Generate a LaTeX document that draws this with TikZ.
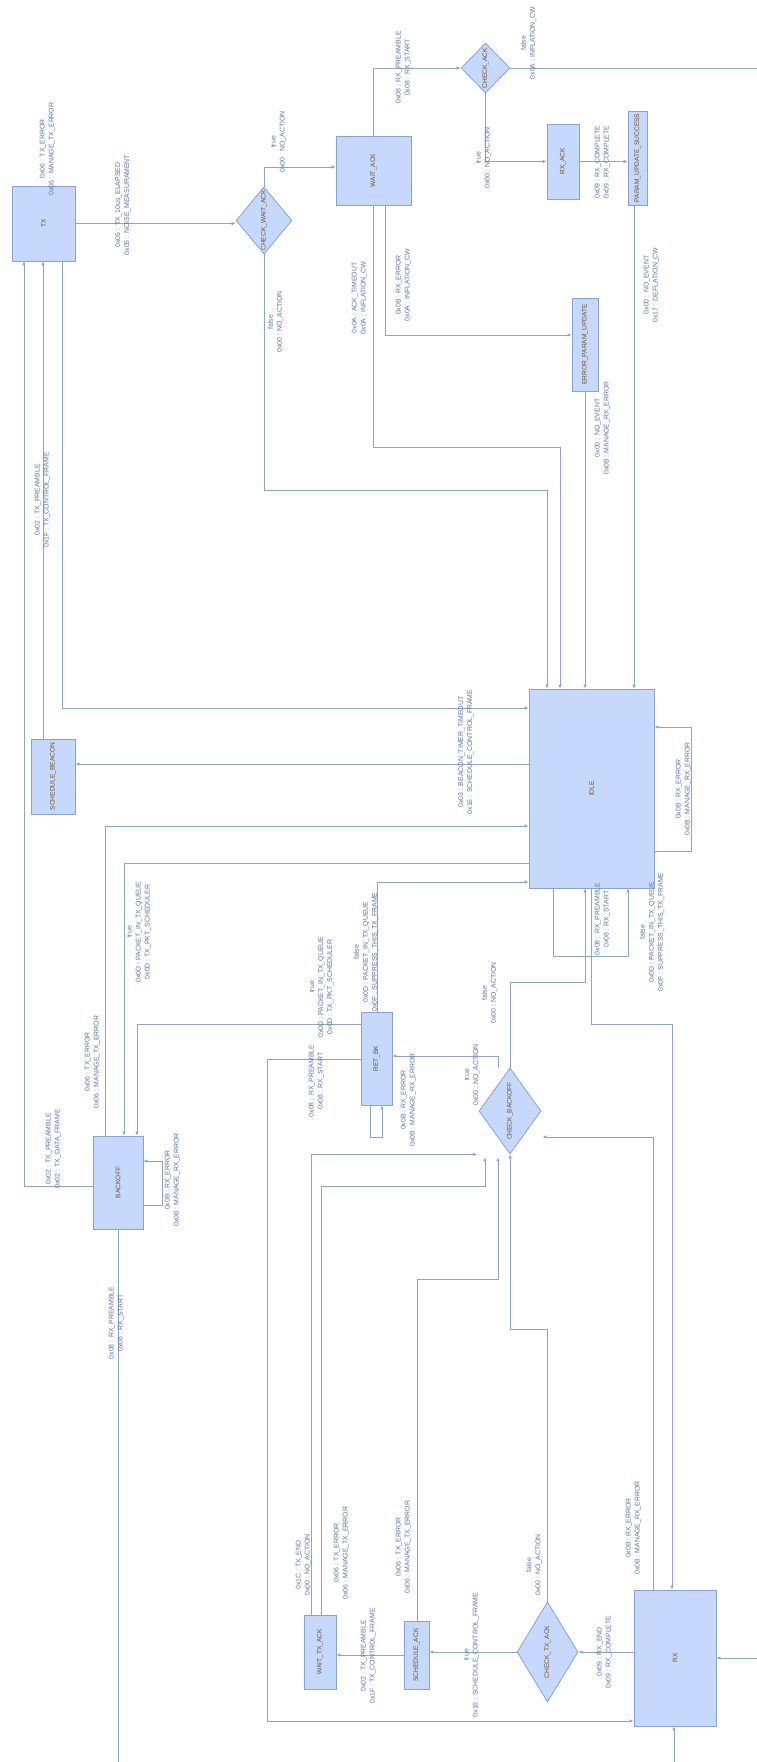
\documentclass[tikz,border=0pt]{standalone}
\usepackage{fontspec}
\usetikzlibrary{shapes.geometric,arrows.meta}
\newfontfamily\diafont{Liberation Sans}
\newcommand{\lfont}{\diafont\fontsize{6.9}{9}\selectfont}
\newcommand{\nfont}{\diafont\fontsize{6.6}{9}\selectfont}
\definecolor{boxfill}{HTML}{C6D9FD}
\definecolor{boxline}{HTML}{86A2DA}
\definecolor{nodetext}{HTML}{6E4F25}
\definecolor{labeltext}{HTML}{5F74A8}
\definecolor{edgecol}{HTML}{8CA3D6}
\tikzset{
 box/.style={draw=boxline, fill=boxfill, line width=0.8pt, rectangle, inner sep=0pt},
 dia/.style={draw=boxline, fill=boxfill, line width=0.8pt, diamond, inner sep=0pt},
 ntxt/.style={rotate=90, text=nodetext, font=\nfont, inner sep=0pt},
 lbl/.style={rotate=90, text=labeltext, font=\lfont, align=center, inner sep=0pt},
 edge/.style={draw=edgecol, line width=0.7pt, -{Latex[length=4pt,width=3.5pt]}},
 plain/.style={draw=edgecol, line width=0.7pt},
}
\begin{document}
\begin{tikzpicture}[x=1pt,y=-1pt]
\useasboundingbox (0,0) rectangle (757,1762);
\fill[white] (0,0) rectangle (757,1762);

% ---------- nodes ----------
\node[box, minimum width=63pt, minimum height=75pt, label={[ntxt]center:TX}] (tx) at (43.5,223.5) {};
\node[box, minimum width=75pt, minimum height=69pt, label={[ntxt]center:WAIT\_ACK}] (wa) at (373.5,170.5) {};
\node[box, minimum width=32pt, minimum height=75pt, label={[ntxt]center:RX\_ACK}] (rxack) at (563,161.5) {};
\node[box, minimum width=19pt, minimum height=94pt, label={[ntxt]center:PARAM\_UPDATE\_SUCCESS}] (psu) at (637.5,158) {};
\node[box, minimum width=26pt, minimum height=93pt, label={[ntxt]center:ERROR\_PARAM\_UPDATE}] (epu) at (585,344.5) {};
\node[box, minimum width=125pt, minimum height=199pt, label={[ntxt]center:IDLE}] (idle) at (591.5,788.5) {};
\node[box, minimum width=44pt, minimum height=75pt, label={[ntxt]center:SCHEDULE\_BEACON}] (sb) at (53,776.5) {};
\node[box, minimum width=31pt, minimum height=93pt, label={[ntxt]center:RET\_BK}] (rb) at (376.5,1058.5) {};
\node[box, minimum width=50pt, minimum height=93pt, label={[ntxt]center:BACKOFF}] (bo) at (118,1182.5) {};
\node[box, minimum width=32pt, minimum height=74pt, label={[ntxt]center:WAIT\_TX\_ACK}] (wta) at (320,1652) {};
\node[box, minimum width=25pt, minimum height=68pt, label={[ntxt]center:SCHEDULE\_ACK}] (sa) at (416.5,1655) {};
\node[box, minimum width=82pt, minimum height=136pt, label={[ntxt]center:RX}] (rx) at (675,1658) {};

\node[dia, minimum width=56pt, minimum height=67pt, label={[ntxt]center:CHECK\_WAIT\_ACK}] (cwa) at (264,220.5) {};
\node[dia, minimum width=49pt, minimum height=50pt, label={[ntxt]center:CHECK\_ACK}] (ca) at (485.5,68) {};
\node[dia, minimum width=62pt, minimum height=86pt, label={[ntxt]center:CHECK\_BACKOFF}] (cb) at (510,1111) {};
\node[dia, minimum width=61pt, minimum height=100pt, label={[ntxt]center:CHECK\_TX\_ACK}] (cta) at (547.5,1652) {};

\coordinate (eR1) at (757,68);
\coordinate (eR2) at (757,1658);
\coordinate (eB1) at (118,1762);
\coordinate (eB2) at (674,1762);

% ---------- connectors ----------
\draw[edge] (tx.east) -- (tx.east -| cwa.west);
\draw[edge] (cwa.north) |- ([yshift=3.5pt]wa.west);
\draw[edge] (cwa.south) -- (264,490) -| ([xshift=-44.5pt]idle.north);
\draw[edge] ([xshift=-0.5pt]wa.south) -- (373,447) -| ([xshift=-31.5pt]idle.north);
\draw[edge] ([xshift=11.5pt]wa.south) |- ([yshift=9.5pt]epu.west);
\draw[edge] (epu.south) -- (epu.south |- idle.north);
\draw[edge] ([xshift=-0.5pt]wa.north) |- (ca.west);
\draw[plain] (ca.east) -- (eR1);
\draw[edge] (ca.south) |- (rxack.west);
\draw[edge] (rxack.east) -- (rxack.east -| psu.west);
\draw[edge] ([xshift=-3.5pt]psu.south) -- ([xshift=42.5pt]idle.north);

\draw[edge] ([yshift=-3.5pt]bo.west) -| ([xshift=-19.5pt]tx.south);
\draw[edge] ([xshift=-10pt]sb.north) -- ([xshift=-0.5pt]tx.south);
\draw[edge] ([xshift=18.5pt]tx.south) |- ([yshift=80.5pt]idle.west);
\draw[edge] ([yshift=24.5pt]idle.west) -- ([yshift=12.5pt]sb.east);
\draw[edge] ([xshift=-13pt]bo.north) |- ([yshift=-37.5pt]idle.west);
\draw[edge] ([yshift=-74.5pt]idle.west) -| ([xshift=6pt]bo.north);
\draw[edge] ([yshift=34.5pt]rb.west) -| ([xshift=19pt]bo.north);
\draw[edge] ([xshift=0.5pt]rb.north) |- ([yshift=-93.5pt]idle.west);
\draw[edge] ([yshift=-62.5pt]idle.east) -- (691,851) -- (691,727) -- ([yshift=61.5pt]idle.east);
\draw[edge] ([xshift=-38.5pt]idle.south) -- (553,956) -| ([xshift=36.5pt]idle.south);
\draw[edge] (cb.north) -- (510,982) -| ([xshift=-6.5pt]idle.south);
\draw[edge] ([xshift=-0.5pt]idle.south) -- (591,1024) -| ([xshift=-3pt]rx.north);
\draw[edge] ([xshift=-12pt]cb.north) |- ([yshift=2.5pt]rb.east);
\draw[edge] ([xshift=-6.5pt]rb.south) -- (370,1137) -| ([xshift=5.5pt]rb.south);
\draw[edge] ([yshift=-0.5pt]rb.west) -- (267,1059) |- ([yshift=-63pt]rx.west);
\draw[edge] ([yshift=-22.5pt]bo.east) -- (162,1205) |- ([yshift=21.5pt]bo.east);
\draw[plain] (bo.south) -- (eB1);

\draw[edge] ([xshift=-9pt]wta.north) |- ([xshift=-33pt]cb.south);
\draw[edge] ([xshift=1pt]wta.north) -- (321,1186) -| ([xshift=-25pt,yshift=-3pt]cb.south);
\draw[edge] ([xshift=0.5pt]sa.north) -- (417,1279) -| ([xshift=-12pt,yshift=-3pt]cb.south);
\draw[edge] (cta.north) -- (547.5,1329) -| (cb.south);
\draw[edge] ([xshift=-22pt]rx.north) |- ([xshift=1pt,yshift=-26pt]cb.east);
\draw[edge] ([yshift=6pt]rx.west) -- (cta.east);
\draw[edge] (cta.west) -- (cta.west -| sa.east);
\draw[edge] (sa.west) -- (sa.west -| wta.east);
\draw[edge] (eR2) -- (rx.east);
\draw[edge] (eB2) -- ([xshift=-1pt]rx.south);

% ---------- labels ----------
\node[lbl] (l1) at (47.5,149) {0x06 : TX\_ERROR\\0x06 : MANAGE\_TX\_ERROR};
\node[lbl] (l2) at (123,205) {0x05 : TX\_10us\_ELAPSED\\0x05 : NOISE\_MEASURAMENT};
\node[lbl] (l3) at (278.5,142) {true\\0x00 : NO\_ACTION};
\node[lbl] (l4) at (275.5,322) {false\\0x00 : NO\_ACTION};
\node[lbl] (l5) at (359.5,298) {0x0A : ACK\_TIMEOUT\\0x0A : INFLATION\_CW};
\node[lbl] (l6) at (403.5,285) {0x0B : RX\_ERROR\\0x0A : INFLATION\_CW};
\node[lbl] (l7) at (403.5,67.5) {0x08 : RX\_PREAMBLE\\0x08 : RX\_START};
\node[lbl] (l8) at (528.5,43) {false\\0x0A : INFLATION\_CW};
\node[lbl] (l9) at (483.5,158) {true\\0x00 : NO\_ACTION};
\node[lbl] (l10) at (602.5,162) {0x09 : RX\_COMPLETE\\0x09 : RX\_COMPLETE};
\node[lbl] (l11) at (651.5,285) {0x00 : NO\_EVENT\\0x17 : DEFLATION\_CW};
\node[lbl] (l12) at (602.5,428) {0x00 : NO\_EVENT\\0x0B : MANAGE\_RX\_ERROR};
\node[lbl] (l13) at (42.5,500) {0x02 : TX\_PREAMBLE\\0x1F : TX\_CONTROL\_FRAME};
\node[lbl] (l14) at (466,752) {0x03 : BEACON\_TIMER\_TIMEOUT\\0x16 : SCHEDULE\_CONTROL\_FRAME};
\node[lbl] (l15) at (683.5,789) {0x0B : RX\_ERROR\\0x0B : MANAGE\_RX\_ERROR};
\node[lbl] (l16) at (602.5,919) {0x08 : RX\_PREAMBLE\\0x08 : RX\_START};
\node[lbl] (l17) at (652,932) {false\\0x0D : PACKET\_IN\_TX\_QUEUE\\0x0F : SUPPRESS\_THIS\_TX\_FRAME};
\node[lbl] (l18) at (489.5,993) {false\\0x00 : NO\_ACTION};
\node[lbl] (l19) at (139,932) {true\\0x0D : PACKET\_IN\_TX\_QUEUE\\0x0D : TX\_PKT\_SCHEDULER};
\node[lbl] (l20) at (321.5,987) {true\\0x0D : PACKET\_IN\_TX\_QUEUE\\0x0D : TX\_PKT\_SCHEDULER};
\node[lbl] (l21) at (366,952) {false\\0x0D : PACKET\_IN\_TX\_QUEUE\\0x0F : SUPPRESS\_THIS\_TX\_FRAME};
\node[lbl] (l22) at (92.5,1062) {0x06 : TX\_ERROR\\0x06 : MANAGE\_TX\_ERROR};
\node[lbl] (l23) at (53.5,1149) {0x02 : TX\_PREAMBLE\\0x02 : TX\_DATA\_FRAME};
\node[lbl] (l24) at (172.5,1180) {0x0B : RX\_ERROR\\0x0B : MANAGE\_RX\_ERROR};
\node[lbl] (l25) at (116.5,1323) {0x08 : RX\_PREAMBLE\\0x08 : RX\_START};
\node[lbl] (l26) at (316.5,1081) {0x08 : RX\_PREAMBLE\\0x08 : RX\_START};
\node[lbl] (l27) at (408.5,1100) {0x0B : RX\_ERROR\\0x0B : MANAGE\_RX\_ERROR};
\node[lbl] (l28) at (472,1075) {true\\0x00 : NO\_ACTION};
\node[lbl] (l29) at (303.5,1565) {0x1C : TX\_END\\0x00 : NO\_ACTION};
\node[lbl] (l30) at (341.5,1553) {0x06 : TX\_ERROR\\0x06 : MANAGE\_TX\_ERROR};
\node[lbl] (l31) at (403.5,1547) {0x06 : TX\_ERROR\\0x06 : MANAGE\_TX\_ERROR};
\node[lbl] (l32) at (534,1565) {false\\0x00 : NO\_ACTION};
\node[lbl] (l33) at (633.5,1528) {0x0B : RX\_ERROR\\0x0B : MANAGE\_RX\_ERROR};
\node[lbl] (l34) at (604.5,1652) {0x09 : RX\_END\\0x09 : RX\_COMPLETE};
\node[lbl] (l35) at (471.5,1655) {true\\0x16 : SCHEDULE\_CONTROL\_FRAME};
\node[lbl] (l36) at (368.5,1656) {0x02 : TX\_PREAMBLE\\0x1F : TX\_CONTROL\_FRAME};
\end{tikzpicture}
\end{document}
